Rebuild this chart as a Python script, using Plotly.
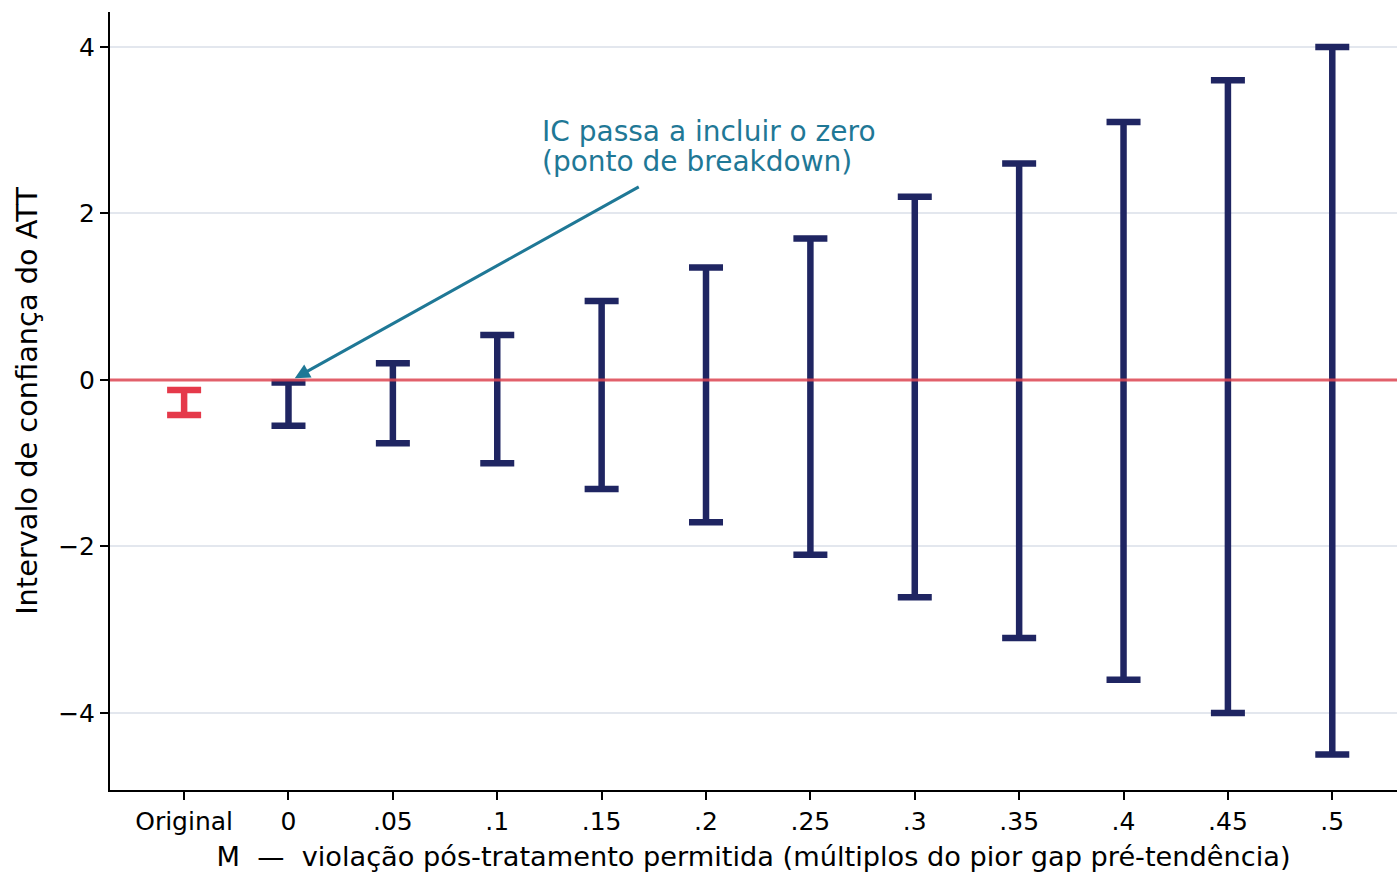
import plotly.graph_objects as go

categories = ["Original", "0", ".05", ".1", ".15", ".2", ".25", ".3", ".35", ".4", ".45", ".5"]
lower = [-0.42, -0.55, -0.76, -1.00, -1.31, -1.71, -2.10, -2.61, -3.10, -3.60, -4.00, -4.50]
upper = [-0.12, -0.03, 0.20, 0.54, 0.95, 1.35, 1.70, 2.20, 2.60, 3.10, 3.60, 4.00]
colors = ["#e5394a"] + ["#1f2562"] * 11

FONT = "DejaVu Sans"
fig = go.Figure()
for c, lo, hi, col in zip(categories, lower, upper, colors):
    mid = (lo + hi) / 2
    fig.add_trace(go.Scatter(
        x=[c], y=[mid], mode="markers",
        marker=dict(size=1, color="rgba(0,0,0,0)"),
        error_y=dict(type="data", symmetric=False, array=[hi - mid], arrayminus=[mid - lo],
                     color=col, thickness=6.5, width=17),
        showlegend=False, hoverinfo="skip",
    ))

fig.add_shape(type="line", xref="paper", x0=0, x1=1, yref="y", y0=0, y1=0,
              line=dict(color="rgba(224,72,84,0.85)", width=3), layer="above")

fig.add_annotation(x=1.06, y=0.02, ax=4.37, ay=2.33, xref="x", yref="y", axref="x", ayref="y",
                   text="", showarrow=True, arrowhead=2, arrowsize=1, arrowwidth=3,
                   arrowcolor="#1f7896")
fig.add_annotation(x=3.41, y=2.99, xref="x", yref="y", text="IC passa a incluir o zero",
                   showarrow=False, xanchor="left", yanchor="middle",
                   font=dict(family=FONT, size=28, color="#1f7896"))
fig.add_annotation(x=3.41, y=2.63, xref="x", yref="y", text="(ponto de breakdown)",
                   showarrow=False, xanchor="left", yanchor="middle",
                   font=dict(family=FONT, size=28, color="#1f7896"))

fig.update_layout(
    width=1397, height=873,
    margin=dict(l=110, r=0, t=12, b=83),
    plot_bgcolor="white", paper_bgcolor="white",
    font=dict(family=FONT, color="black"),
    xaxis=dict(type="category", range=[-0.71, 11.62], showgrid=False,
               showline=True, linecolor="black", linewidth=2,
               ticks="outside", ticklen=8, tickwidth=2, tickcolor="black",
               tickfont=dict(size=25), zeroline=False,
               title=dict(text="M  —  violação pós-tratamento permitida (múltiplos do pior gap pré-tendência)",
                          font=dict(size=27.2), standoff=12)),
    yaxis=dict(range=[-4.925, 4.42], tickvals=[-4, -2, 0, 2, 4], ticktext=["\u22124", "\u22122", "0", "2", "4"],
               showgrid=True, gridcolor="#e3e7ee", gridwidth=1.5,
               showline=True, linecolor="black", linewidth=2,
               ticks="outside", ticklen=8, tickwidth=2, tickcolor="black",
               tickfont=dict(size=25), zeroline=False,
               title=dict(text="Intervalo de confiança do ATT", font=dict(size=28.8), standoff=12)),
)

fig.write_html("out.html")
